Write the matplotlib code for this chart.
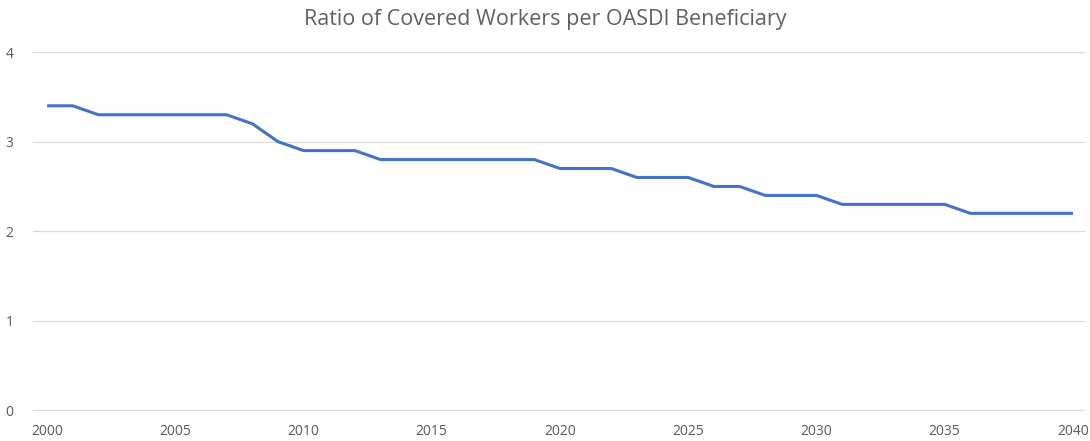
import matplotlib
matplotlib.use('Agg')
from matplotlib import pyplot as plt

years = list(range(2000, 2041))
ratio = [3.4, 3.4, 3.3, 3.3, 3.3, 3.3, 3.3, 3.3, 3.2, 3.0,
         2.9, 2.9, 2.9, 2.8, 2.8, 2.8, 2.8, 2.8, 2.8, 2.8,
         2.7, 2.7, 2.7, 2.6, 2.6, 2.6, 2.5, 2.5, 2.4, 2.4,
         2.4, 2.3, 2.3, 2.3, 2.3, 2.3, 2.2, 2.2, 2.2, 2.2, 2.2]
x_ticks = list(range(2000, 2041, 5))
y_ticks = [0, 1, 2, 3, 4]

plt.rcParams['font.family'] = ['Open Sans', 'DejaVu Sans']

fig = plt.figure(figsize=(10.9, 4.41), dpi=100)
ax = fig.add_axes([0.0303, 0.068, 0.9651, 0.814])

ax.plot(years, ratio, color='#4472C4', linewidth=2.2, solid_capstyle='butt')

ax.set_xlim(1999.45, 2040.47)
ax.set_ylim(-0.006, 4)
ax.set_xticks(x_ticks)
ax.set_yticks(y_ticks)
ax.grid(axis='y', color='#D9D9D9', linewidth=0.9)
ax.set_axisbelow(True)
for s in ax.spines.values():
    s.set_visible(False)
ax.tick_params(length=0, colors='#595959', labelsize=10)
ax.tick_params(axis='y', pad=14)
ax.tick_params(axis='x', pad=9)

fig.text(0.5, 0.955, 'Ratio of Covered Workers per OASDI Beneficiary',
         ha='center', va='center', fontsize=15.5, color='#606060')

fig.savefig('out.png', dpi=100)
